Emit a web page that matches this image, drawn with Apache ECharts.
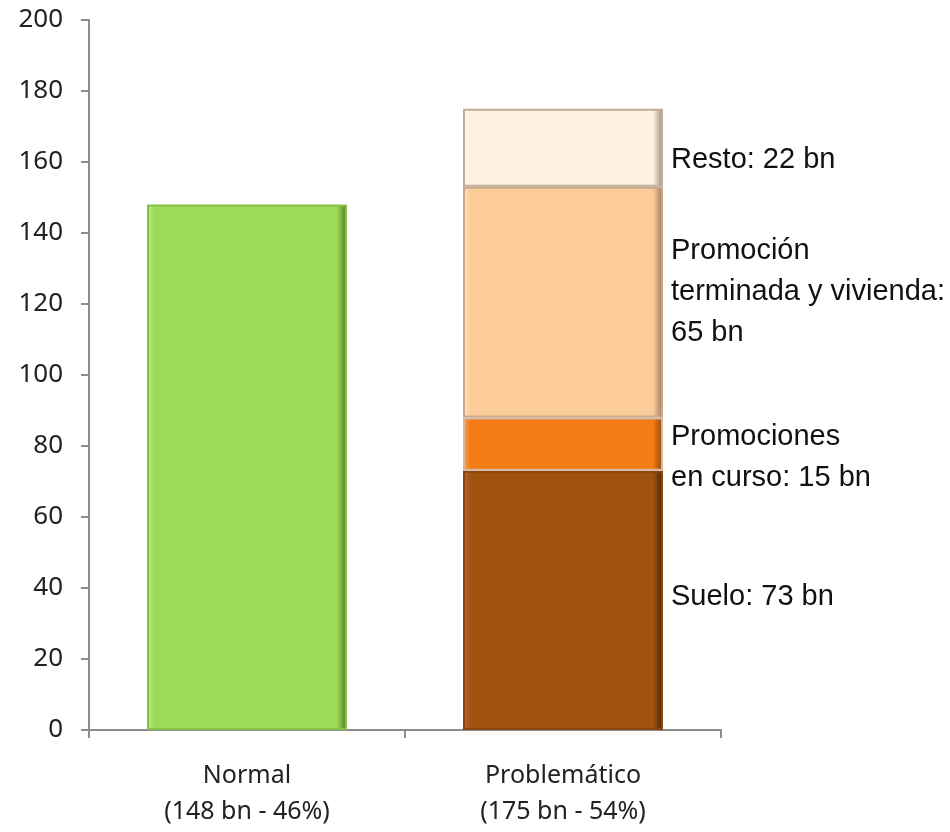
<!DOCTYPE html>
<html>
<head>
<meta charset="utf-8">
<script src="https://cdn.jsdelivr.net/npm/echarts@6/dist/echarts.min.js"></script>
<style>
  html, body { margin: 0; padding: 0; background: #fff; }
  #chart { width: 950px; height: 832px; }
</style>
</head>
<body>
<div id="chart"></div>
<script>
// categories and values (bn)
const categories = ['Normal\n(148 bn - 46%)', 'Problemático\n(175 bn - 54%)']
const normal = [148, '-']
const suelo = ['-', 73]
const enCurso = ['-', 15]
const terminada = ['-', 65]
const resto = ['-', 22]
const segmentLabels = [
  'Suelo: 73 bn',
  'Promociones\nen curso: 15 bn',
  'Promoción\nterminada y vivienda:\n65 bn',
  'Resto: 22 bn'
]

const chart = echarts.init(document.getElementById('chart'))

function fill(light, base, dark) {
  return new echarts.graphic.LinearGradient(0, 0, 1, 0, [
    { offset: 0, color: light },
    { offset: 0.04, color: base },
    { offset: 0.95, color: base },
    { offset: 1, color: dark }
  ])
}

function segment(name, data, colors, label, labelOffset) {
  return {
    name: name,
    type: 'bar',
    stack: 'total',
    barWidth: 200,
    data: data,
    itemStyle: {
      color: fill(colors[0], colors[1], colors[2]),
      borderColor: colors[3],
      borderWidth: 2
    },
    label: {
      show: !!label,
      position: 'right',
      distance: 8,
      offset: labelOffset || [0, 0],
      formatter: label || '',
      fontFamily: '"Liberation Sans", Arial, sans-serif',
      fontSize: 29,
      lineHeight: 41,
      color: '#111',
      align: 'left'
    }
  }
}

chart.setOption({
  animation: false,
  grid: { left: 89, right: 229, top: 20, bottom: 102 },
  xAxis: {
    type: 'category',
    data: categories,
    axisLine: { lineStyle: { color: '#8c8c8c', width: 2 } },
    axisTick: { show: true, length: 8, lineStyle: { color: '#8c8c8c', width: 2 } },
    axisLabel: {
      margin: 28,
      fontFamily: '"Noto Sans", "Open Sans", sans-serif',
      fontSize: 25,
      lineHeight: 36,
      color: '#222'
    }
  },
  yAxis: {
    type: 'value',
    min: 0,
    max: 200,
    interval: 20,
    splitLine: { show: false },
    axisLine: { show: true, lineStyle: { color: '#8c8c8c', width: 2 } },
    axisTick: { show: true, length: 8, lineStyle: { color: '#8c8c8c', width: 2 } },
    axisLabel: {
      margin: 26,
      fontFamily: '"Noto Sans", "Open Sans", sans-serif',
      fontSize: 26,
      color: '#222'
    }
  },
  series: [
    segment('Normal', normal, ['#b8ec80', '#9bdb58', '#4f7a22', '#86c24a']),
    segment('Suelo', suelo, ['#b86a26', '#a0520f', '#4a2405', '#8a4510'], segmentLabels[0], [0, -3]),
    segment('Promociones en curso', enCurso, ['#f9a050', '#f47b16', '#8a4a10', '#d9b8a0'], segmentLabels[1], [0, 13]),
    segment('Promoción terminada y vivienda', terminada, ['#fde0bc', '#fbcb98', '#9a7a60', '#c8a88c'], segmentLabels[2], [0, -10]),
    segment('Resto', resto, ['#fff8ee', '#fdf1e1', '#9a8a7a', '#c0aa98'], segmentLabels[3], [0, 12])
  ]
})
</script>
</body>
</html>
